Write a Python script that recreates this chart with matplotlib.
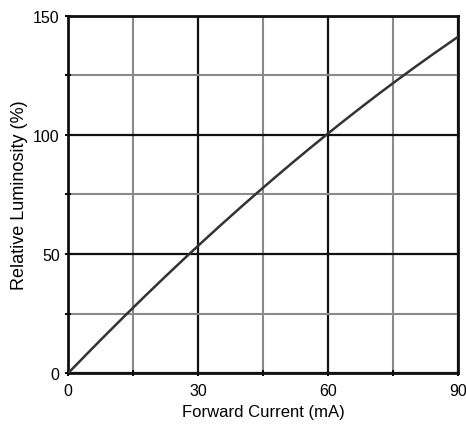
import matplotlib
matplotlib.use("Agg")
import matplotlib.pyplot as plt
import numpy as np
from matplotlib.ticker import MultipleLocator

current = [0, 14, 27.5, 43.3, 60, 76.9, 90]
luminosity = [0, 25, 50, 75, 100, 125, 141]

plt.rcParams['font.family'] = ['Liberation Sans', 'DejaVu Sans']

fig = plt.figure(figsize=(4.66, 4.31), dpi=100)
ax = fig.add_axes([68/466, 1 - 374/431, (458-68)/466, (374-17)/431])

xs = np.linspace(0, 90, 200)
coef = np.polyfit(current, luminosity, 3)
ax.plot(xs, np.polyval(coef, xs), color='#333333', lw=1.8, zorder=3)

ax.set_xlim(0, 90)
ax.set_ylim(0, 150)
ax.xaxis.set_major_locator(MultipleLocator(30))
ax.xaxis.set_minor_locator(MultipleLocator(15))
ax.yaxis.set_major_locator(MultipleLocator(50))
ax.yaxis.set_minor_locator(MultipleLocator(25))
ax.grid(which='major', color='#111111', lw=1.6)
ax.grid(which='minor', color='#8a8a8a', lw=1.5)
for s in ax.spines.values():
    s.set_linewidth(2.0)
    s.set_color('#111111')
ax.tick_params(which='both', direction='inout', length=4, width=1.4, labelsize=11.5)
ax.tick_params(axis='x', pad=5)
ax.tick_params(axis='y', pad=4)
ax.set_xlabel('Forward Current (mA)', fontsize=12)
ax.set_ylabel('Relative Luminosity (%)', fontsize=13)
ax.xaxis.set_label_coords(0.5, -(413 - 374) / 357, transform=ax.transAxes)
ax.xaxis.label.set_va('center')
ax.yaxis.set_label_coords(-(68 - 20) / 390, 0.5, transform=ax.transAxes)
ax.yaxis.label.set_va('center')
fig.savefig('out.png', dpi=100)
